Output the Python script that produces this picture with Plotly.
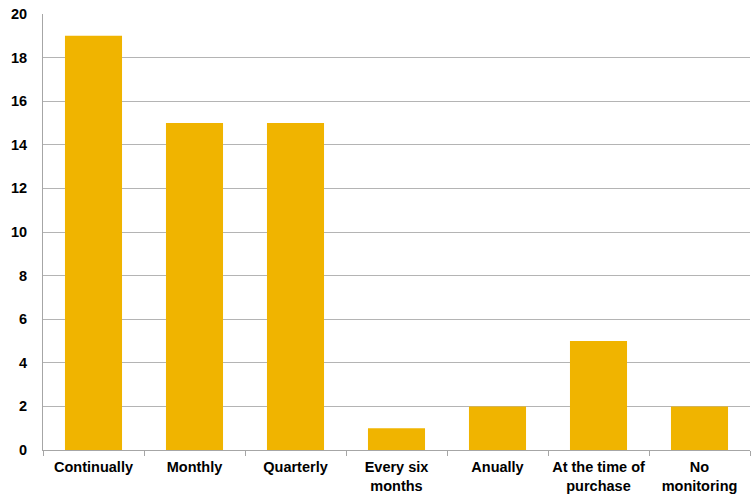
import plotly.graph_objects as go

categories = ["Continually", "Monthly", "Quarterly", "Every six<br>months", "Anually",
              "At the time of<br>purchase", "No<br>monitoring"]
values = [19, 15, 15, 1, 2, 5, 2]
y_ticks = [0, 2, 4, 6, 8, 10, 12, 14, 16, 18, 20]

fig = go.Figure(go.Bar(x=categories, y=values, marker=dict(color="#F0B400", line=dict(width=0)),
                       width=0.565))
fig.update_layout(
    width=751, height=496,
    margin=dict(l=43, r=1, t=14, b=46, autoexpand=False),
    paper_bgcolor="white", plot_bgcolor="white",
    font=dict(family="Liberation Sans, Arial", size=14, color="black"),
    showlegend=False,
)
fig.update_xaxes(
    showline=True, linecolor="#A6A6A6", linewidth=1, automargin=False,
    ticks="outside", tickson="boundaries", ticklen=5, tickcolor="#A6A6A6",
    tickfont=dict(family="Liberation Sans, Arial", size=14.5, color="black", weight="bold"),
    range=[-0.5, 6.5], showgrid=False, ticklabelstandoff=4, tickangle=0,
)
fig.update_yaxes(
    range=[0, 20], tickvals=y_ticks, showline=True, linecolor="#A6A6A6", linewidth=1,
    showgrid=True, gridcolor="#B4B4B4", gridwidth=1, ticks="", zeroline=False, automargin=False,
    tickfont=dict(family="Liberation Sans, Arial", size=14.5, color="black", weight="bold"),
    ticklabelstandoff=12,
)
fig.write_html("out.html")
